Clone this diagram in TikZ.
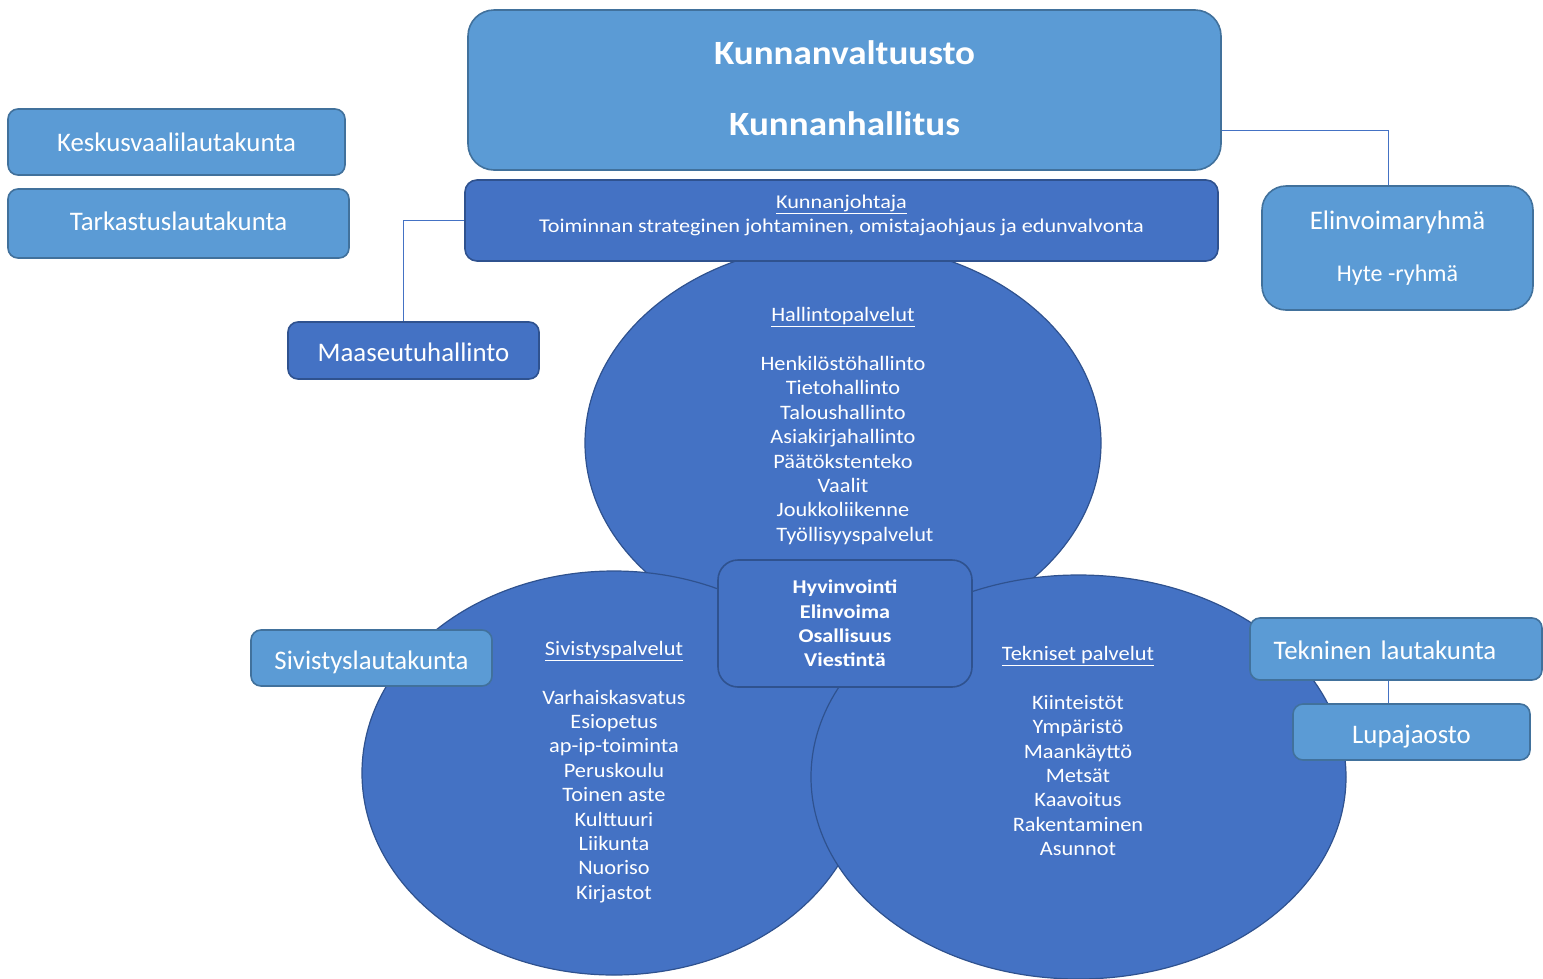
\documentclass[tikz,border=0pt]{standalone}
\usepackage{fontspec}
\setmainfont{Carlito}
\newfontfamily\wide{Carlito}[FakeStretch=1.09]
\newfontfamily\wider{Carlito}[FakeStretch=1.14]
\usetikzlibrary{shapes.geometric}
\definecolor{lightfill}{HTML}{5B9BD5}
\definecolor{lightdraw}{HTML}{41719C}
\definecolor{darkfill}{HTML}{4472C4}
\definecolor{darkdraw}{HTML}{2F528F}
\tikzset{
  lbox/.style={draw=lightdraw, fill=lightfill, line width=1.6pt, rounded corners=10pt, text=white, inner sep=0pt},
  dbox/.style={draw=darkdraw, fill=darkfill, line width=1.6pt, rounded corners=10pt, text=white, inner sep=0pt},
  ell/.style={ellipse, draw=darkdraw, fill=darkfill, line width=1.2pt, inner sep=0pt},
  conn/.style={draw=darkfill, line width=1pt},
  bigtxt/.style={font=\fontsize{26.8}{30}\selectfont, text=white, inner sep=0pt},
  listtxt/.style={font=\wide\fontsize{20.5}{24.4}\selectfont, text=white, align=center, inner sep=0pt},
}
\begin{document}
\begin{tikzpicture}[x=1pt,y=-1pt]
\useasboundingbox (0,0) rectangle (1543,978);

% ellipses (drawn first: top, left, right)
\node[ell, minimum width=516pt, minimum height=400pt] (hall) at (843,443) {};
\node[ell, minimum width=504pt, minimum height=404pt] (sivi) at (614,773) {};
\node[ell, minimum width=535pt, minimum height=404pt] (tekn) at (1078.5,777) {};

% top box
\node[lbox, rounded corners=26pt, minimum width=753pt, minimum height=160pt] (kv) at (844.5,90) {};
\node[font=\wide\fontsize{34}{40}\selectfont\bfseries, text=white] (kvt1) at (844.5,53) {Kunnanvaltuusto};
\node[font=\wide\fontsize{34}{40}\selectfont\bfseries, text=white] (kvt2) at (844.5,124) {Kunnanhallitus};

% kunnanjohtaja
\node[dbox, rounded corners=12pt, minimum width=753pt, minimum height=81pt] (kj) at (841.5,220.5) {};
\node[align=center, text=white, inner sep=0pt, font=\wider\fontsize{19.5}{24.5}\selectfont] (kjt) at (841.5,215.5)
  {\underline{Kunnanjohtaja}\\Toiminnan strateginen johtaminen, omistajaohjaus ja edunvalvonta};

% left boxes
\node[lbox, minimum width=337pt, minimum height=66pt] (kes) at (176.5,142) {};
\node[bigtxt] (kest) at (176.5,142) {Keskusvaalilautakunta};
\node[lbox, minimum width=341pt, minimum height=69pt] (tar) at (178.5,223.5) {};
\node[bigtxt] (tart) at (178.5,221.5) {Tarkastuslautakunta};
\node[dbox, minimum width=251pt, minimum height=57pt] (maa) at (413.5,350.5) {};
\node[bigtxt] (maat) at (413.5,352.5) {Maaseutuhallinto};

% right boxes
\node[lbox, rounded corners=24pt, minimum width=271pt, minimum height=124pt] (elin) at (1397.5,248) {};
\node[bigtxt] (elint1) at (1397.5,222) {Elinvoimaryhmä};
\node[bigtxt, font=\fontsize{24}{28}\selectfont] (elint2) at (1397.5,275) {Hyte -ryhmä};

% ellipse texts
\node[listtxt] (hallt) at (843,426) {\underline{Hallintopalvelut}\\ \\ Henkilöstöhallinto\\Tietohallinto\\Taloushallinto\\Asiakirjahallinto\\Päätökstenteko\\Vaalit\\Joukkoliikenne\\\hspace*{24pt}Työllisyyspalvelut};
\node[listtxt] (sivit) at (614,772) {\underline{Sivistyspalvelut}\\ \\ Varhaiskasvatus\\Esiopetus\\ap-ip-toiminta\\Peruskoulu\\Toinen aste\\Kulttuuri\\Liikunta\\Nuoriso\\Kirjastot};
\node[listtxt] (tekt) at (1078,751) {\underline{Tekniset palvelut}\\ \\ Kiinteistöt\\Ympäristö\\Maankäyttö\\Metsät\\Kaavoitus\\Rakentaminen\\Asunnot};

% center box
\node[dbox, rounded corners=20pt, minimum width=254pt, minimum height=127pt, align=center,
      font=\wider\fontsize{19.5}{24.4}\selectfont\bfseries] (mid) at (845,623.5)
  {Hyvinvointi\\Elinvoima\\Osallisuus\\Viestintä};

% lautakunnat
\node[lbox, minimum width=241pt, minimum height=56pt] (sivl) at (371.5,658) {};
\node[bigtxt] (sivlt) at (371.5,662) {Sivistyslautakunta};
\node[lbox, minimum width=292pt, minimum height=62pt] (tekl) at (1396,649) {};
\node[bigtxt] (teklt) at (1385,650.5) {Tekninen\hspace{9pt}lautakunta};
\node[lbox, minimum width=237pt, minimum height=56pt] (lupa) at (1411.5,732) {};
\node[bigtxt] (lupat) at (1411.5,737) {Lupajaosto};

% connectors
\draw[conn] (kj.west) -| ([xshift=-10pt]maa.north);
\draw[conn] ([yshift=-40pt]kv.east) -| ([xshift=-9.5pt]elin.north);
\draw[conn] ([xshift=-8pt]tekl.south) -- ([xshift=-8pt]tekl.south |- lupa.north);
\end{tikzpicture}
\end{document}
